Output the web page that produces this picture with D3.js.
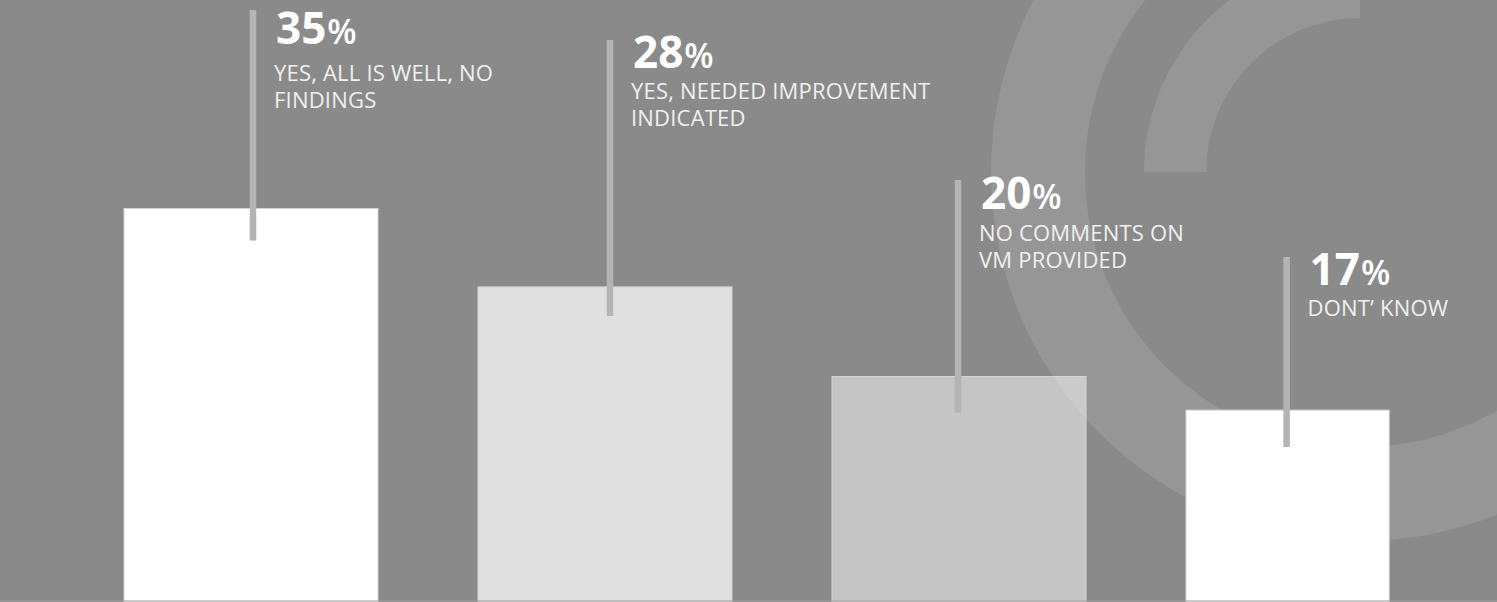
<!DOCTYPE html>
<html>
<head>
<meta charset="utf-8">
<script src="https://cdn.jsdelivr.net/npm/d3@7/dist/d3.min.js"></script>
<style>
  html, body { margin: 0; padding: 0; background: #8a8a8a; overflow: hidden; }
  svg { display: block; }
</style>
</head>
<body>
<svg id="chart" width="1497" height="602"></svg>
<script>
// Survey responses (share of respondents, %)
const categories = ["all-well", "needs-improvement", "no-comments", "dont-know"];
const values = [35, 28, 20, 17];
const labelLines = [
  ["YES, ALL IS WELL, NO", "FINDINGS"],
  ["YES, NEEDED IMPROVEMENT", "INDICATED"],
  ["NO COMMENTS ON", "VM PROVIDED"],
  ["DONT’ KNOW"]
];

// Bar appearance
const barFill = ["#ffffff", "#e0e0e0", "#ffffff", "#ffffff"];
const barOpacity = [1, 1, 0.5, 1];
const barWidthFactor = [1, 1, 1, 0.8];

// Callout layout (pixels)
const calloutNudge = [2, 5, -1, -1];
const calloutTop = [10, 40, 180, 257];
const calloutDrop = [32, 29, 36, 37];
const valueBaseline = [44, 68, 209, 285];
const labelGap = [37, 31, 32, 31];

const W = 1497, H = 602;
const svg = d3.select("#chart");

svg.append("rect").attr("width", W).attr("height", H).attr("fill", "#8a8a8a");

// Decorative rings in the background
const ringCenter = [1360, 172];
const deco = svg.append("g").attr("transform", `translate(${ringCenter[0]},${ringCenter[1]})`);
deco.append("path")
  .attr("d", d3.arc()({ innerRadius: 275, outerRadius: 369, startAngle: 0, endAngle: 2 * Math.PI }))
  .attr("fill", "#969696");
deco.append("path")
  .attr("d", d3.arc()({ innerRadius: 154, outerRadius: 216, startAngle: -Math.PI / 2, endAngle: 0 }))
  .attr("fill", "#969696");

const x = d3.scaleBand()
  .domain(categories)
  .range([124, 1440])
  .paddingInner(0.2825)
  .paddingOuter(0);

const y = d3.scaleLinear()
  .domain([0, 35])
  .range([600.5, 208.5]);

const data = categories.map((c, i) => ({ c, v: values[i], i }));

// Bars
svg.append("g").selectAll("rect")
  .data(data)
  .join("rect")
  .attr("x", d => x(d.c))
  .attr("y", d => y(d.v))
  .attr("width", d => x.bandwidth() * barWidthFactor[d.i])
  .attr("height", d => H - y(d.v))
  .attr("fill", d => barFill[d.i])
  .attr("fill-opacity", d => barOpacity[d.i])
  .attr("stroke", "#d4d4d4")
  .attr("stroke-width", 1);

// Baseline
svg.append("line")
  .attr("x1", 0).attr("x2", W)
  .attr("y1", H - 1).attr("y2", H - 1)
  .attr("stroke", "#9e9e9e").attr("stroke-width", 1);

const cx = d => x(d.c) + x.bandwidth() * barWidthFactor[d.i] / 2 + calloutNudge[d.i];

// Callout lines
svg.append("g").selectAll("line")
  .data(data)
  .join("line")
  .attr("x1", cx).attr("x2", cx)
  .attr("y1", d => calloutTop[d.i])
  .attr("y2", d => y(d.v) + calloutDrop[d.i])
  .attr("stroke", "#b4b4b4")
  .attr("stroke-width", 6.5);

// Value + category labels
const labels = svg.append("g").selectAll("g")
  .data(data)
  .join("g")
  .attr("transform", d => `translate(${cx(d) + 21},0)`);

const valueText = labels.append("text")
  .attr("x", 2)
  .attr("y", d => valueBaseline[d.i])
  .attr("fill", "#ffffff")
  .attr("font-family", "'Open Sans', 'Noto Sans', sans-serif");
valueText.append("tspan")
  .attr("font-size", 44)
  .attr("font-weight", 700)
  .text(d => d.v);
valueText.append("tspan")
  .attr("font-size", 34)
  .attr("font-weight", 600)
  .attr("dx", 1)
  .text("%");

labels.each(function (d) {
  const g = d3.select(this);
  labelLines[d.i].forEach((line, k) => {
    g.append("text")
      .attr("x", 0)
      .attr("y", valueBaseline[d.i] + labelGap[d.i] + k * 27)
      .attr("fill", "#f0f0f0")
      .attr("font-family", "'Open Sans', 'Noto Sans', sans-serif")
      .attr("font-size", 22)
      .attr("font-weight", 400)
      .attr("letter-spacing", 0.2)
      .text(line);
  });
});
</script>
</body>
</html>
